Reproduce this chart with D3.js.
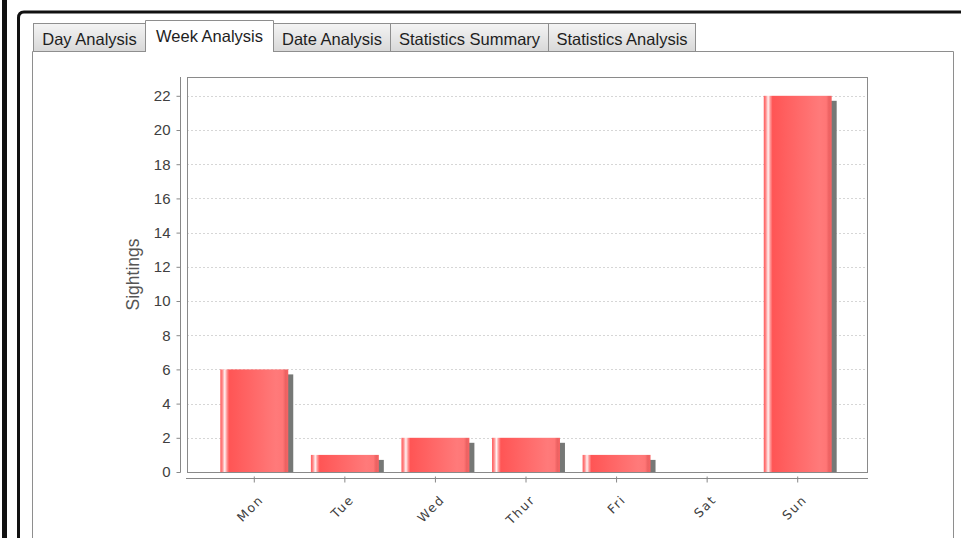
<!DOCTYPE html>
<html>
<head>
<meta charset="utf-8">
<script src="https://cdn.jsdelivr.net/npm/d3@7"></script>
<style>
  body { margin: 0; background: #fff; }
  svg { display: block; }
</style>
</head>
<body>
<svg id="chart" width="961" height="538"></svg>
<script>
// Sightings per weekday
const days = ["Mon", "Tue", "Wed", "Thur", "Fri", "Sat", "Sun"];
const sightings = [6, 1, 2, 2, 1, 0, 22];
const yTickValues = [0, 2, 4, 6, 8, 10, 12, 14, 16, 18, 20, 22];
const yLabel = "Sightings";

// Tab strip above the chart panel
const tabLabels = ["Day Analysis", "Week Analysis", "Date Analysis", "Statistics Summary", "Statistics Analysis"];
const activeTab = "Week Analysis";

// Layout
const W = 961, H = 538;
const tabEdges = [33, 145, 273, 390, 548, 695];
const panel = { left: 32.5, top: 51.5, right: 953.5 };
const plot = { left: 187, top: 77, right: 867, bottom: 472 };
const yAxisX = 180.5, xAxisY = 478.5;
const shadowOffset = 5;

const svg = d3.select("#chart");
const defs = svg.append("defs");

// Window frame
svg.append("rect").attr("x", 2).attr("y", -2).attr("width", 5).attr("height", H + 4).attr("fill", "#111");
svg.append("path")
  .attr("d", `M${W + 5},12 H24 Q18.5,12 18.5,18 V${H + 5}`)
  .attr("fill", "none").attr("stroke", "#111").attr("stroke-width", 3);

// Tab panel
svg.append("path")
  .attr("d", `M${panel.left},${H + 5} V${panel.top} H${panel.right} V${H + 5}`)
  .attr("fill", "#fff").attr("stroke", "#8e8e8e").attr("stroke-width", 1);

const tabGrad = defs.append("linearGradient").attr("id", "tabGrad")
  .attr("x1", 0).attr("y1", 0).attr("x2", 0).attr("y2", 1);
tabGrad.append("stop").attr("offset", "0%").attr("stop-color", "#f4f4f4");
tabGrad.append("stop").attr("offset", "100%").attr("stop-color", "#d8d8d8");

const tabG = svg.append("g").attr("font-family", "Liberation Sans, Arial, sans-serif").attr("font-size", 16.5);
tabLabels.forEach((label, i) => {
  const x0 = tabEdges[i] + 0.5, x1 = tabEdges[i + 1] + 0.5;
  const active = label === activeTab;
  const top = active ? 20.5 : 23.5;
  const bottom = panel.top;
  if (active) {
    tabG.append("rect").attr("x", x0).attr("y", top).attr("width", x1 - x0).attr("height", bottom - top + 1)
      .attr("fill", "#fff");
    tabG.append("path").attr("d", `M${x0},${bottom + 0.5} V${top} H${x1} V${bottom + 0.5}`)
      .attr("fill", "none").attr("stroke", "#8e8e8e");
  } else {
    tabG.append("rect").attr("x", x0).attr("y", top).attr("width", x1 - x0).attr("height", bottom - top)
      .attr("fill", "url(#tabGrad)").attr("stroke", "#8e8e8e");
  }
  tabG.append("text")
    .attr("x", (x0 + x1) / 2).attr("y", active ? 41.5 : 44.5)
    .attr("text-anchor", "middle").attr("fill", "#1e1e1e")
    .text(label);
});

// Scales
const yMax = d3.max(sightings) * 1.05;
const y = d3.scaleLinear().domain([0, yMax]).range([plot.bottom, plot.top]);
const x = d3.scaleBand().domain(days).range([209, 843]).paddingInner(0.25).paddingOuter(0.125);

// Plot background, gridlines and outline
svg.append("rect").attr("x", plot.left).attr("y", plot.top)
  .attr("width", plot.right - plot.left).attr("height", plot.bottom - plot.top).attr("fill", "#fff");

svg.append("g").selectAll("line")
  .data(yTickValues.filter(v => v > 0))
  .join("line")
  .attr("x1", plot.left).attr("x2", plot.right)
  .attr("y1", d => Math.round(y(d)) + 0.5).attr("y2", d => Math.round(y(d)) + 0.5)
  .attr("stroke", "#d6d6d6").attr("stroke-dasharray", "2,2");

// Bar gradient: light streak near the left edge, brightening toward the right
const barGrad = defs.append("linearGradient").attr("id", "barGrad")
  .attr("x1", 0).attr("y1", 0).attr("x2", 1).attr("y2", 0);
[
  ["0%", "#ff5a5a"], ["3%", "#ff8a8a"], ["6.5%", "#fff2f2"], ["10%", "#ff8f8f"],
  ["13%", "#ff5555"], ["82%", "#ff7a7a"], ["92%", "#ff7676"], ["96%", "#ec6262"], ["100%", "#f86464"]
].forEach(([o, c]) => barGrad.append("stop").attr("offset", o).attr("stop-color", c));

defs.append("clipPath").attr("id", "plotClip").append("rect")
  .attr("x", plot.left).attr("y", plot.top)
  .attr("width", plot.right - plot.left).attr("height", plot.bottom - plot.top);

const data = days.map((d, i) => ({ day: d, value: sightings[i] })).filter(d => d.value > 0);
const barsG = svg.append("g").attr("clip-path", "url(#plotClip)");

barsG.selectAll("rect.shadow")
  .data(data)
  .join("rect").attr("class", "shadow")
  .attr("x", d => x(d.day) + shadowOffset)
  .attr("y", d => y(d.value) + shadowOffset)
  .attr("width", x.bandwidth())
  .attr("height", d => plot.bottom - y(d.value))
  .attr("fill", "#767876");

barsG.selectAll("rect.bar")
  .data(data)
  .join("rect").attr("class", "bar")
  .attr("x", d => x(d.day))
  .attr("y", d => y(d.value))
  .attr("width", x.bandwidth())
  .attr("height", d => plot.bottom - y(d.value))
  .attr("fill", "url(#barGrad)");

svg.append("rect").attr("x", plot.left + 0.5).attr("y", plot.top + 0.5)
  .attr("width", plot.right - plot.left).attr("height", plot.bottom - plot.top)
  .attr("fill", "none").attr("stroke", "#8a8a8a");

// Y axis
const yAxis = svg.append("g")
  .attr("transform", `translate(${yAxisX},0)`)
  .call(d3.axisLeft(y).tickValues(yTickValues).tickSize(4).tickSizeOuter(0).tickPadding(6));
yAxis.select(".domain").attr("stroke", "#888").attr("d", `M0,${plot.top}V${plot.bottom + 0.5}`);
yAxis.selectAll(".tick line").attr("stroke", "#888");
yAxis.selectAll(".tick text")
  .attr("font-family", "Liberation Sans, Arial, sans-serif").attr("font-size", 15).attr("fill", "#404040");

svg.append("text")
  .attr("transform", `translate(139,${(plot.top + plot.bottom) / 2}) rotate(-90)`)
  .attr("text-anchor", "middle")
  .attr("font-family", "Liberation Sans, Arial, sans-serif").attr("font-size", 17.5).attr("fill", "#555")
  .text(yLabel);

// X axis
const xAxis = svg.append("g")
  .attr("transform", `translate(0,${xAxisY})`)
  .call(d3.axisBottom(x).tickSize(4).tickSizeOuter(0));
xAxis.select(".domain").attr("stroke", "#888").attr("d", `M${plot.left - 1},0H${plot.right + 1}`);
xAxis.selectAll(".tick line").attr("stroke", "#888").attr("y1", -2);
xAxis.selectAll(".tick text")
  .attr("font-family", "DejaVu Sans, sans-serif").attr("font-size", 12.5).attr("fill", "#404040")
  .attr("letter-spacing", 1.6)
  .attr("text-anchor", "end")
  .attr("dy", null).attr("y", null)
  .attr("transform", "translate(10,22) rotate(-45)");
</script>
</body>
</html>
